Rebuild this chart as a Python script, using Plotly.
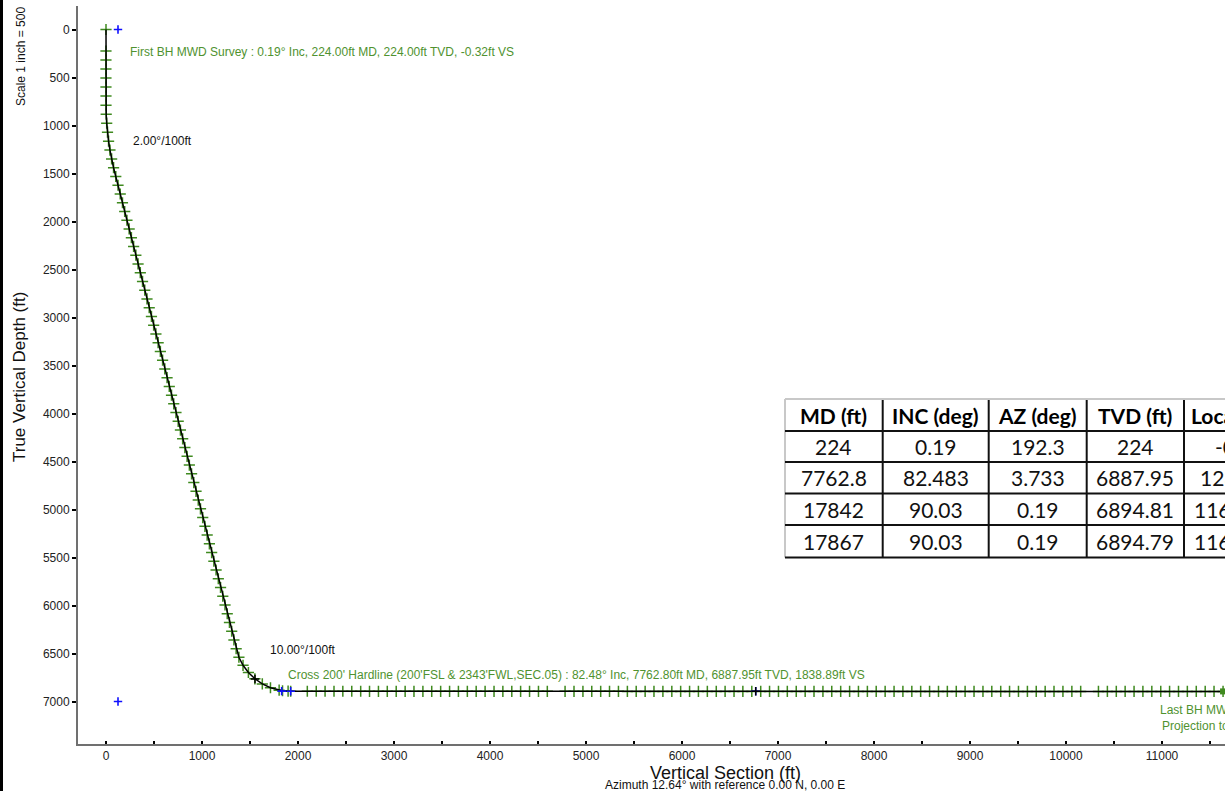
import plotly.graph_objects as go

W, H = 1225, 791
ML, MR, MT, MB = 78, 0, 6, 47
PW, PH = W - ML - MR, H - MT - MB


def px_x(px):
    return (px - ML) / PW


def px_y(py):
    return (H - MB - py) / PH


# ---------------- data ----------------
# survey stations: vertical section (ft) / true vertical depth (ft)
upper_vs = [0, -0.3, -0.5, -0.6, -0.5, -0.4, -0.2,
            0.0, 2.1, 7.3, 15.5, 26.8, 41.1, 58.5, 78.9]
upper_tvd = [0, 224, 318, 412, 506, 600, 694,
             788, 882, 975.8, 1069.5, 1162.8, 1255.7, 1348.1, 1439.8]

tangent_vs = [101.9, 125.1, 148.3, 171.6, 194.8, 218.0, 241.2, 264.4, 287.7, 310.9,
              334.1, 357.3, 380.5, 403.8, 427.0, 450.2, 473.4, 496.6, 519.9, 543.1,
              566.3, 589.5, 612.7, 636.0, 659.2, 682.4, 705.6, 728.8, 752.1, 775.3,
              798.5, 821.7, 844.9, 868.2, 891.4, 914.6, 937.8, 961.0, 984.3, 1007.5,
              1030.7, 1053.9, 1077.1, 1100.4, 1123.6, 1146.8, 1170.0, 1193.2, 1216.5, 1239.7,
              1262.9, 1286.1, 1309.3, 1332.6, 1355.8]
tangent_tvd = [1531.3, 1622.4, 1713.5, 1804.6, 1895.7, 1986.8, 2077.8, 2168.9, 2260.0, 2351.1,
               2442.2, 2533.3, 2624.4, 2715.5, 2806.6, 2897.7, 2988.7, 3079.8, 3170.9, 3262.0,
               3353.1, 3444.2, 3535.3, 3626.4, 3717.5, 3808.6, 3899.6, 3990.7, 4081.8, 4172.9,
               4264.0, 4355.1, 4446.2, 4537.3, 4628.4, 4719.5, 4810.5, 4901.6, 4992.7, 5083.8,
               5174.9, 5266.0, 5357.1, 5448.2, 5539.3, 5630.4, 5721.4, 5812.5, 5903.6, 5994.7,
               6085.8, 6176.9, 6268.0, 6359.1, 6450.2]

curve_vs = [1384.5, 1427.4, 1483.4, 1550.9, 1628.2, 1713.2, 1803.5, 1838.9, 1896.9, 1924]
curve_tvd = [6539.1, 6622.7, 6698.1, 6763.3, 6816.6, 6856.6, 6882.1, 6888.0, 6892.6, 6893.0]

lateral_vs = [2097, 2190, 2282, 2375, 2467, 2560, 2653, 2745, 2838, 2930,
              3023, 3116, 3208, 3301, 3393, 3486, 3579, 3671, 3764, 3856,
              3949, 4042, 4134, 4227, 4319, 4412, 4505, 4597, 4782, 4875,
              4968, 5060, 5153, 5245, 5338, 5431, 5523, 5616, 5708, 5801,
              5894, 5986, 6079, 6171, 6264, 6357, 6449, 6542, 6634, 6727,
              6820, 6912, 7005, 7097, 7190, 7283, 7375, 7468, 7560, 7653,
              7746, 7838, 7931, 8023, 8116, 8209, 8301, 8394, 8486, 8579,
              8672, 8764, 8857, 8949, 9042, 9135, 9227, 9320, 9412, 9505,
              9598, 9690, 9783, 9875, 9968, 10061, 10153, 10338, 10431, 10524,
              10616, 10709, 10801, 10894, 10987, 11079, 11172, 11264, 11357, 11450,
              11542, 11636]
lateral_tvd = [6893.1, 6893.2, 6893.2, 6893.3, 6893.3, 6893.4, 6893.4, 6893.5, 6893.5, 6893.6,
               6893.6, 6893.7, 6893.7, 6893.8, 6893.8, 6893.9, 6893.9, 6894.0, 6894.0, 6894.1,
               6894.1, 6894.1, 6894.2, 6894.2, 6894.2, 6894.3, 6894.3, 6894.3, 6894.4, 6894.4,
               6894.4, 6894.5, 6894.5, 6894.5, 6894.5, 6894.6, 6894.6, 6894.6, 6894.6, 6894.6,
               6894.7, 6894.7, 6894.7, 6894.7, 6894.7, 6894.7, 6894.8, 6894.8, 6894.8, 6894.8,
               6894.8, 6894.8, 6894.8, 6894.8, 6894.8, 6894.8, 6894.8, 6894.8, 6894.8, 6894.8,
               6894.8, 6894.8, 6894.8, 6894.8, 6894.8, 6894.8, 6894.8, 6894.8, 6894.8, 6894.8,
               6894.8, 6894.8, 6894.8, 6894.8, 6894.8, 6894.8, 6894.8, 6894.8, 6894.8, 6894.8,
               6894.8, 6894.8, 6894.8, 6894.8, 6894.8, 6894.8, 6894.8, 6894.8, 6894.8, 6894.8,
               6894.8, 6894.8, 6894.8, 6894.8, 6894.8, 6894.8, 6894.8, 6894.8, 6894.8, 6894.8,
               6894.8, 6894.81]

# projection to bit
projection_vs = [11636, 11660]
projection_tvd = [6894.81, 6894.79]

# blue reference marks, black plan marks
ref_vs = [125, 125, 1830, 1924, 6768]
ref_tvd = [0, 7000, 6892, 6893, 6894]
plan_vs = [1552, 6768]
plan_tvd = [6766, 6894]

# table
table_header = ["MD (ft)", "INC (deg)", "AZ (deg)", "TVD (ft)", "Local N (ft)"]
table_md = ["224", "7762.8", "17842", "17867"]
table_inc = ["0.19", "82.483", "90.03", "90.03"]
table_az = ["192.3", "3.733", "0.19", "0.19"]
table_tvd = ["224", "6887.95", "6894.81", "6894.79"]
table_local = ["-0.31", "1235.42", "11617.85", "11642.84"]

# annotations
label_first = "First BH MWD Survey : 0.19° Inc, 224.00ft MD, 224.00ft TVD, -0.32ft VS"
label_dls1 = "2.00°/100ft"
label_dls2 = "10.00°/100ft"
label_cross = ("Cross 200' Hardline (200'FSL & 2343'FWL,SEC.05) : 82.48° Inc, "
               "7762.80ft MD, 6887.95ft TVD, 1838.89ft VS")
label_last = "Last BH MWD Survey : 90.03° Inc, 17842.00ft MD, 6894.81ft TVD, 11636.12ft VS"
label_proj = "Projection to Bit : 90.03° Inc, 17867.00ft MD, 6894.79ft TVD, 11660.53ft VS"

# ---------------- figure ----------------
survey_vs = upper_vs + tangent_vs + curve_vs + lateral_vs
survey_tvd = upper_tvd + tangent_tvd + curve_tvd + lateral_tvd
line_vs = survey_vs + projection_vs[1:]
line_tvd = survey_tvd + projection_tvd[1:]

GREEN = "#3f8a1f"
TGREEN = "#4f922f"
FONT = "Liberation Sans, Arial, sans-serif"

fig = go.Figure()
fig.add_trace(go.Scatter(x=survey_vs, y=survey_tvd, mode="markers",
                         marker=dict(symbol="cross-thin", size=8,
                                     line=dict(color=GREEN, width=1.5)),
                         hoverinfo="skip", showlegend=False))
fig.add_trace(go.Scatter(x=line_vs, y=line_tvd, mode="lines",
                         line=dict(color="black", width=1.5),
                         showlegend=False))
fig.add_trace(go.Scatter(x=ref_vs, y=ref_tvd, mode="markers",
                         marker=dict(symbol="cross-thin", size=6,
                                     line=dict(color="#1010ff", width=1.6)),
                         showlegend=False))
fig.add_trace(go.Scatter(x=plan_vs, y=plan_tvd, mode="markers",
                         marker=dict(symbol="cross-thin", size=6,
                                     line=dict(color="black", width=1.5)),
                         showlegend=False))
fig.add_trace(go.Scatter(x=projection_vs[:1], y=projection_tvd[:1], mode="markers",
                         marker=dict(symbol="square", size=6, color=GREEN),
                         showlegend=False))

annotations = []


def text(t, px, py, size=12, color="#111", anchor="left", angle=0, family=FONT):
    annotations.append(dict(text=t, x=px_x(px), y=px_y(py), xref="paper", yref="paper",
                            xanchor=anchor, yanchor="middle", showarrow=False,
                            textangle=angle, borderpad=0, borderwidth=0,
                            font=dict(size=size, color=color, family=family)))


text(label_first, 130, 52, color=TGREEN)
text(label_dls1, 133, 141)
text(label_dls2, 270, 650)
text(label_cross, 288, 674.5, color=TGREEN)
text(label_last, 1160, 710, color=TGREEN)
text(label_proj, 1162, 726, color=TGREEN)
text("True Vertical Depth (ft)", 19, 377, size=17, anchor="center", angle=-90)
text("Scale 1 inch = 500", 21, 57, size=12, anchor="center", angle=-90)
text("Vertical Section (ft)", 725, 773, size=18, anchor="center")
text("Azimuth 12.64° with reference 0.00 N, 0.00 E", 724.5, 784.5, size=12, anchor="center")

# table
col_edges = [785, 882.7, 988.7, 1086.7, 1184, 1294]
row_edges = [399, 431, 462, 493.5, 525, 557.5]
shapes = []
shapes.append(dict(type="rect", xref="paper", yref="paper",
                   x0=px_x(col_edges[0]), x1=px_x(col_edges[-1]),
                   y0=px_y(row_edges[0]), y1=px_y(row_edges[-1]),
                   fillcolor="white", line=dict(width=0), layer="above"))
for i, xe in enumerate(col_edges):
    shapes.append(dict(type="line", xref="paper", yref="paper",
                       x0=px_x(xe), x1=px_x(xe), y0=px_y(row_edges[0]), y1=px_y(row_edges[-1]),
                       line=dict(color="#c8c8c8" if i == 0 else "#111", width=2)))
for i, ye in enumerate(row_edges):
    shapes.append(dict(type="line", xref="paper", yref="paper",
                       x0=px_x(col_edges[0]), x1=px_x(col_edges[-1]), y0=px_y(ye), y1=px_y(ye),
                       line=dict(color="#c8c8c8" if i == 0 else "#111", width=2)))

TFONT = "Lato, Liberation Sans, sans-serif"
TSIZE = 21
centers = [(col_edges[i] + col_edges[i + 1]) / 2 for i in range(5)]
rcent = [(row_edges[i] + row_edges[i + 1]) / 2 for i in range(5)]
for j, h in enumerate(table_header):
    if j < 4:
        text("<b>" + h + "</b>", centers[j], rcent[0], size=TSIZE, color="#000",
             anchor="center", family=TFONT)
    else:
        text("<b>" + h + "</b>", 1191, rcent[0], size=TSIZE, color="#000",
             anchor="left", family=TFONT)
columns = [table_md, table_inc, table_az, table_tvd, table_local]
for j, col in enumerate(columns):
    for i, v in enumerate(col):
        text(v, centers[j], rcent[i + 1], size=TSIZE, color="#111", anchor="center", family=TFONT)

# left border of the page
shapes.append(dict(type="line", xref="paper", yref="paper",
                   x0=px_x(1.5), x1=px_x(1.5), y0=px_y(0), y1=px_y(H),
                   line=dict(color="black", width=3)))

fig.update_layout(
    width=W, height=H,
    margin=dict(l=ML, r=MR, t=MT, b=MB, pad=0),
    paper_bgcolor="white", plot_bgcolor="white",
    font=dict(family=FONT, size=12, color="#222"),
    showlegend=False,
    annotations=annotations,
    shapes=shapes,
    xaxis=dict(range=[(ML - 106) / 0.096, (W - 106) / 0.096],
               tickmode="linear", tick0=0, dtick=1000, tickformat="d",
               ticks="inside", ticklen=3, tickwidth=1.5, tickcolor="black",
               minor=dict(tick0=0, dtick=500, ticks="inside", ticklen=3,
                          tickwidth=1.5, tickcolor="black"),
               showline=True, linecolor="#707070", linewidth=2,
               showgrid=False, zeroline=False, tickfont=dict(size=12, color="#222")),
    yaxis=dict(range=[(H - MB - 29.5) / 0.096, (MT - 29.5) / 0.096],
               tickmode="linear", tick0=0, dtick=500, tickformat="d",
               ticks="outside", ticklen=4, tickwidth=1.5, tickcolor="black",
               showline=True, linecolor="#707070", linewidth=2,
               showgrid=False, zeroline=False, tickfont=dict(size=12, color="#222")),
)

fig.write_html("out.html", config={"displayModeBar": False},
               post_script="document.body.style.margin='0';"
                           "document.body.style.overflow='hidden';")
